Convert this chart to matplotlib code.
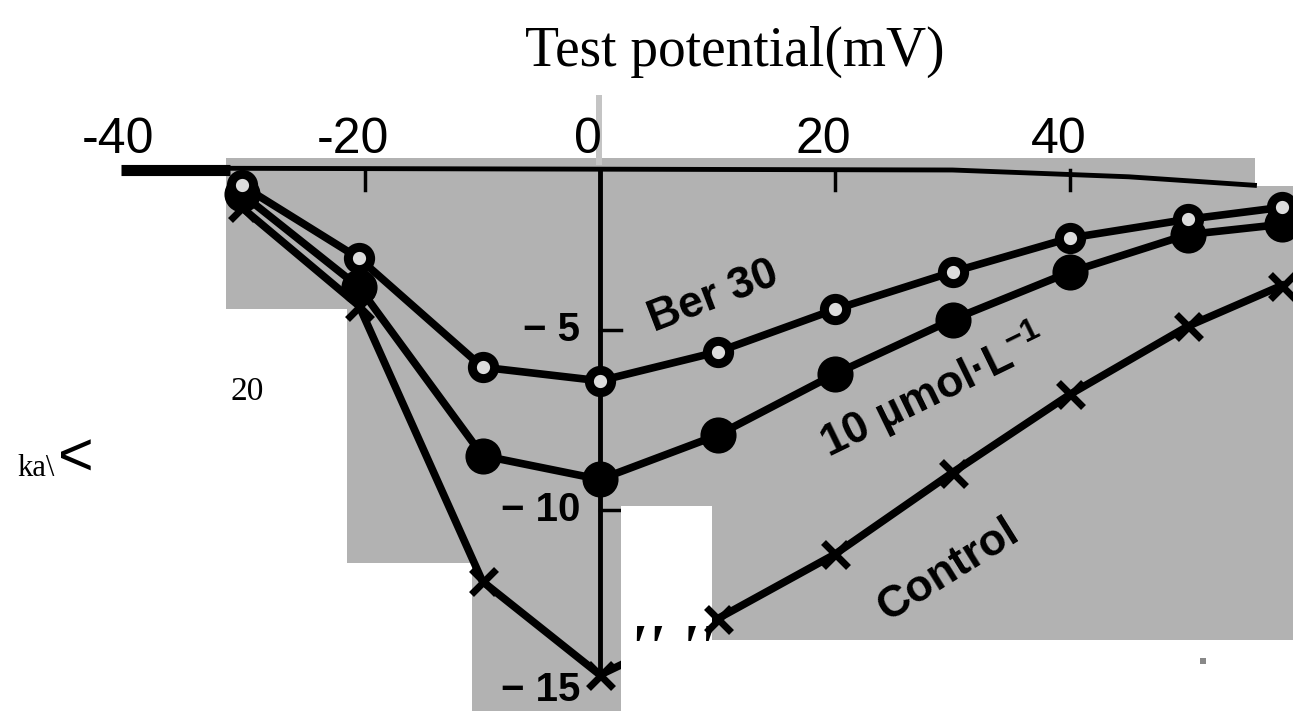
import matplotlib
matplotlib.use("Agg")
import matplotlib.pyplot as plt
from matplotlib.patches import Rectangle
from matplotlib.transforms import blended_transform_factory

# Test potential (mV)
volts = [-30.5, -20.5, -10, 0, 10, 20, 30, 40, 50, 58]
# current values (same units as the -5/-10/-15 ticks)
ber30 = [-0.45, -2.6, -5.8, -6.2, -5.35, -4.1, -3.0, -2.0, -1.45, -1.1]
ber10 = [-0.7, -3.45, -8.4, -9.1, -7.8, -6.0, -4.4, -3.0, -1.9, -1.6]
control = [-1.1, -4.0, -12.1, -14.85, -13.2, -11.3, -8.9, -6.6, -4.6, -3.4]

xtick_vals = [-40, -20, 0, 20, 40]
ytick_vals = [-5, -10, -15]

W, H = 1293, 711
PX_X = 11.75   # pixels per mV
PX_Y = 34.0    # pixels per unit current
X0, Y0 = 600, 170  # pixel position of origin
GRAY = "#b2b2b2"

plt.rcParams["mathtext.fontset"] = "custom"
plt.rcParams["mathtext.rm"] = "Liberation Sans"
plt.rcParams["mathtext.bf"] = "Liberation Sans:bold"

fig = plt.figure(figsize=(W / 100, H / 100), dpi=100)
fig.patch.set_facecolor("white")
ax = fig.add_axes([0, 0, 1, 1])
ax.set_xlim(-X0 / PX_X, (W - X0) / PX_X)
ax.set_ylim(-(H - Y0) / PX_Y, Y0 / PX_Y)
ax.axis("off")


def fx(px):
    return px / W


def fy(py):
    return 1 - py / H


def box(x1, y1, x2, y2, color, z):
    ax.add_patch(Rectangle((fx(x1), fy(y2)), fx(x2) - fx(x1), fy(y1) - fy(y2),
                           transform=ax.transAxes, color=color, lw=0, zorder=z))


# scanned gray pieces (pixel boxes, y from top)
for b in [(226, 158, 1255, 187), (226, 186, 1293, 309), (347, 308, 1293, 506),
          (347, 505, 621, 563), (712, 505, 1293, 640), (472, 562, 621, 711)]:
    box(*b, GRAY, 0)
box(596, 95, 602, 165, "#c4c4c4", 0)
box(1200, 658, 1206, 664, "#888888", 0)

# axes drawn inside the plot
ax.plot([-40.8, -31.5], [0, 0], color="black", lw=8, solid_capstyle="butt", zorder=3)
ax.plot([-31.5, 30, 45, 55.7], [0.05, 0.0, -0.2, -0.45], color="black", lw=3.5, zorder=3)
ax.plot([0, 0], [0, -14.9], color="black", lw=3.5, zorder=3)
for v in [-20, 20, 40]:
    ax.plot([v, v], [0, -0.6], color="black", lw=2.5, zorder=3)
for v in ytick_vals[:2]:
    ax.plot([0, 1.8], [v * 1.06 + 0.6, v * 1.06 + 0.6], color="black", lw=2.5, zorder=3)

# tick labels
bt = blended_transform_factory(ax.transData, ax.transAxes)
for v in xtick_vals:
    ax.text(v - 1.0, fy(153), f"{v}", transform=bt, ha="center", va="baseline",
            fontsize=36, family="Liberation Sans")
for v in ytick_vals:
    ax.text(-1.7, v * 1.06 + 0.6, f"\u2212 {-v}", ha="right", va="center",
            fontsize=29, fontweight="bold", family="Liberation Sans", zorder=4)

ax.text(fx(735), fy(66), "Test potential(mV)", transform=ax.transAxes,
        ha="center", va="baseline", fontsize=40, family="Liberation Serif")


def draw_series(vals, marker, ms, mew, mfc):
    ax.plot(volts, vals, color="black", lw=5.5, zorder=5)
    ax.plot(volts, vals, ls="none", marker=marker, ms=ms, mew=mew,
            mec="black", mfc=mfc, zorder=6)


draw_series(control, "x", 18, 5, "black")
draw_series(ber10, "o", 24, 2, "black")
draw_series(ber30, "o", 16, 6.5, "#dcdcdc")

# white piece of the scan hides part of the control curve
box(621, 506, 712, 711, "white", 5.5)

ax.text(fx(713), fy(297), "Ber 30", transform=ax.transAxes, rotation=21,
        ha="center", va="center", fontsize=32, fontweight="bold",
        family="Liberation Sans", zorder=4)
ax.text(fx(933), fy(392), r"10 µmol·L$^{\mathbf{-1}}$", transform=ax.transAxes,
        rotation=26, ha="center", va="center", fontsize=32, fontweight="bold",
        family="Liberation Sans", zorder=4)
ax.text(fx(948), fy(570), "Control", transform=ax.transAxes, rotation=32,
        ha="center", va="center", fontsize=32, fontweight="bold",
        family="Liberation Sans", zorder=4)

# stray marks from the scan
ax.text(fx(247), fy(392), "20", transform=ax.transAxes, ha="center", va="center",
        fontsize=24, family="Liberation Serif")
ax.text(fx(17), fy(476), "ka\\", transform=ax.transAxes, ha="left", va="baseline",
        fontsize=22, family="Liberation Serif")
ax.text(fx(76), fy(460), "<", transform=ax.transAxes, ha="center", va="center",
        fontsize=44, family="Liberation Sans")
ax.text(fx(672), fy(668), "'' ''", transform=ax.transAxes, ha="center", va="baseline",
        fontsize=46, fontweight="bold", fontstyle="italic", family="Liberation Serif",
        zorder=7)

fig.savefig("out.png", dpi=100)
